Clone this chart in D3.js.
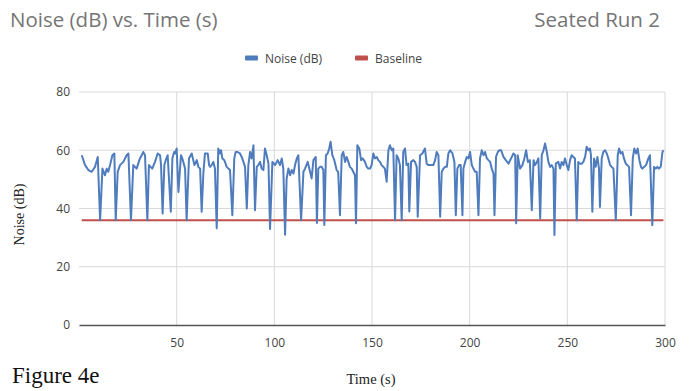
<!DOCTYPE html>
<html>
<head>
<meta charset="utf-8">
<script src="https://cdn.jsdelivr.net/npm/d3@7"></script>
<style>
  body { margin: 0; background: #fff; }
  svg { display: block; }
</style>
</head>
<body>
<div id="chart-container"></div>
<script>
// Series (seconds, dB)
const timeS = [
  1.4, 3.1, 4.8, 6.5, 8.2, 9.6, 10.8, 12.0, 13.3, 14.2, 15.0, 15.9, 17.1, 18.1, 18.8, 19.8, 21.0, 22.7, 24.4, 25.3,
  26.6, 27.8, 29.5, 31.2, 32.1, 32.9, 33.8, 35.0, 35.8, 37.5, 38.9, 40.3, 41.5, 42.0, 42.8, 43.7, 44.4, 45.4, 47.0, 47.8,
  48.7, 49.2, 50.0, 50.9, 52.2, 52.9, 54.3, 55.1, 56.3, 57.7, 59.1, 60.3,
  61.1, 62.0, 62.8, 63.7, 64.5, 65.9, 66.6, 67.1, 67.9, 68.8, 69.6, 70.5, 71.3, 72.2, 72.7, 73.4, 74.4, 75.6,
  76.5, 77.3, 78.5, 79.5, 80.2, 81.2, 82.4, 83.3, 84.2, 85.0, 85.9, 86.7, 87.6, 88.4, 89.3, 90.1, 91.0, 91.8, 92.7, 93.5,
  94.4, 95.2, 96.1, 97.0, 97.8, 99.0, 100.4, 101.7, 102.9, 103.8, 104.6, 105.5, 106.3, 107.2, 108.1, 108.9, 109.8, 110.6, 111.5, 112.3,
  113.7, 114.9, 115.7, 117.1, 118.3, 119.1, 120.0, 121.2,
  121.8, 122.5, 123.4, 124.2, 125.1, 125.6, 126.4, 127.3, 128.1, 128.8, 129.7, 130.7, 131.9, 132.7, 133.6, 134.5, 135.3, 136.2, 137.0, 137.9,
  138.7, 139.6, 140.4, 141.3, 141.8, 142.5, 143.5, 144.4, 145.2, 146.4, 147.3, 148.1, 149.0, 149.8, 150.7, 151.5, 152.4, 153.2, 154.1, 154.9,
  155.8, 156.6, 157.5, 158.4, 159.2, 160.1, 160.9, 161.8, 162.6, 163.5, 164.3, 165.2, 166.0, 166.9, 167.7, 168.6, 169.1, 170.0, 171.2, 172.0,
  172.9, 173.4, 174.6, 175.8, 177.1, 178.0, 178.8, 180.2, 181.4, 182.3, 183.1,
  184.0, 184.9, 185.7, 186.6, 187.4, 188.3, 189.1, 190.0, 191.2, 192.2, 192.9, 193.7, 194.6, 195.4, 196.3, 196.8, 197.7, 198.5, 199.4, 200.2,
  201.1, 201.9, 202.8, 203.6, 204.5, 205.3, 206.2, 207.1, 207.9, 208.8, 209.6, 210.5, 211.3, 212.2, 212.7, 213.5, 214.4, 215.2, 216.1, 217.3,
  218.5, 219.9, 221.2, 222.4, 223.3, 223.8, 224.6, 225.8, 227.0, 228.0, 228.9, 229.8, 230.8, 231.8, 232.7, 233.5, 234.4, 235.2, 236.1, 236.9,
  237.8, 238.6, 239.5, 240.3, 241.2, 242.0, 242.9, 243.4, 244.1,
  245.4, 246.3, 247.1, 248.0, 248.8, 249.7, 250.5, 251.4, 252.2, 253.1, 253.9, 254.8, 255.6, 256.5, 257.4, 258.2, 259.1, 259.9, 260.8, 261.6,
  262.1, 262.8, 263.7, 264.5, 265.4, 266.2, 266.7, 267.6, 268.4, 269.3, 270.2, 271.0, 271.9, 272.7, 273.6, 274.8, 275.8, 276.5, 277.3, 278.2,
  279.0, 279.9, 280.7, 281.6, 282.6, 283.5, 284.3, 285.2, 286.0, 286.9, 287.7, 288.4, 289.4, 290.3, 291.5, 292.3, 293.5, 294.4, 295.3, 296.1,
  296.9, 297.8, 298.7, 299.2
];
const noiseDb = [
  58.3, 54.9, 53.2, 52.6, 54.3, 57.7, 36.0, 53.7, 51.4, 53.7, 52.6, 54.9, 58.3, 58.9, 36.0, 52.6, 54.9, 56.0, 58.3, 58.9,
  36.0, 54.9, 53.7, 57.2, 58.3, 59.4, 58.3, 36.0, 54.9, 53.7, 56.0, 58.9, 58.3, 54.9, 38.3, 54.9, 56.6, 58.3, 38.9, 57.2,
  59.4, 58.9, 60.6, 45.7, 58.3, 57.2, 53.7, 36.0, 57.2, 58.9, 54.9, 56.6,
  54.3, 53.7, 38.9, 52.6, 58.9, 58.9, 54.9, 54.3, 54.9, 56.0, 53.7, 33.2, 60.6, 58.9, 60.0, 57.2, 56.6, 54.3,
  53.7, 53.2, 37.7, 57.2, 59.4, 59.4, 58.9, 57.7, 56.0, 54.3, 40.0, 54.9, 59.4, 57.2, 61.7, 39.4, 54.3, 54.9, 56.0, 53.7,
  53.2, 60.6, 58.3, 55.4, 33.0, 56.0, 54.9, 56.6, 54.9, 57.2, 53.7, 31.0, 50.3, 53.7, 51.4, 53.2, 52.0, 54.9, 57.2, 58.3,
  36.0, 52.6, 53.7, 56.0, 52.6, 50.3, 56.6, 57.7,
  35.0, 53.7, 54.3, 54.3, 53.2, 34.3, 58.3, 58.9, 60.6, 62.9, 58.3, 56.6, 53.2, 52.6, 37.7, 58.3, 59.4, 56.0, 57.7, 56.0,
  54.3, 53.7, 52.6, 51.4, 34.9, 61.7, 60.6, 56.6, 57.2, 56.0, 54.3, 53.7, 53.7, 54.9, 58.9, 57.2, 57.7, 56.6, 56.0, 54.9,
  54.3, 53.7, 49.2, 60.0, 61.7, 60.0, 60.6, 36.0, 58.3, 57.2, 54.9, 36.0, 59.4, 60.6, 54.9, 55.4, 39.0, 56.0, 56.6, 56.0,
  54.3, 37.2, 58.3, 58.9, 60.6, 55.4, 54.9, 54.9, 54.9, 56.6, 59.4,
  58.3, 37.2, 52.6, 53.7, 54.3, 54.3, 58.9, 60.0, 58.9, 56.0, 37.7, 53.7, 54.9, 54.9, 37.7, 53.7, 56.0, 57.7, 57.2, 59.4,
  54.9, 53.7, 52.6, 52.6, 37.7, 57.2, 60.0, 58.3, 59.4, 57.2, 56.6, 56.0, 53.7, 52.0, 37.7, 57.7, 59.4, 60.0, 60.0, 57.7,
  56.6, 55.4, 57.2, 58.9, 58.3, 34.9, 58.3, 53.7, 54.9, 57.2, 60.0, 56.0, 56.6, 39.4, 56.6, 54.9, 56.0, 57.2, 36.6, 58.3,
  60.0, 62.3, 59.4, 56.0, 54.3, 54.9, 53.7, 30.9, 55.4,
  56.0, 53.7, 56.0, 54.9, 57.2, 54.9, 53.2, 56.6, 58.3, 57.7, 57.2, 36.0, 56.0, 55.4, 55.4, 56.0, 57.7, 61.2, 60.0, 60.6,
  58.3, 38.9, 57.2, 54.3, 57.7, 53.7, 40.5, 57.2, 59.4, 60.0, 58.9, 57.2, 54.9, 54.3, 53.7, 36.0, 58.3, 60.6, 58.9, 59.4,
  57.2, 55.4, 54.9, 54.3, 37.7, 57.2, 60.6, 58.9, 60.6, 56.6, 54.3, 53.7, 54.3, 54.9, 57.2, 58.3, 34.3, 54.3, 53.7, 54.3,
  53.7, 54.3, 59.4, 60.0
];
const baselineDb = 36;
const baselineTime = [1.4, 299.2];
const xTicks = [50, 100, 150, 200, 250, 300];
const yTicks = [0, 20, 40, 60, 80];
const seriesNames = ["Noise (dB)", "Baseline"];
const seriesColors = ["#4f7cbd", "#c0504d"];

const width = 691, height = 391;
const margin = { top: 92, right: 26, bottom: 66, left: 79 };

const svg = d3.select("#chart-container").append("svg")
  .attr("width", width)
  .attr("height", height)
  .style("font-family", "'Open Sans', sans-serif");

const x = d3.scaleLinear().domain([0, 300]).range([margin.left, width - margin.right]);
const y = d3.scaleLinear().domain([0, 80]).range([height - margin.bottom, margin.top]);

// gridlines
svg.append("g").selectAll("line.hgrid")
  .data(yTicks.filter(d => d > 0))
  .join("line")
  .attr("x1", x(0)).attr("x2", x(300))
  .attr("y1", d => y(d)).attr("y2", d => y(d))
  .attr("stroke", "#d9d9d9").attr("stroke-width", 1);

svg.append("g").selectAll("line.vgrid")
  .data(xTicks)
  .join("line")
  .attr("x1", d => x(d)).attr("x2", d => x(d))
  .attr("y1", y(80)).attr("y2", y(0))
  .attr("stroke", "#d9d9d9").attr("stroke-width", 1);

// axes
const yAxis = svg.append("g")
  .attr("transform", `translate(${x(0)},0)`)
  .call(d3.axisLeft(y).tickValues(yTicks).tickSize(0).tickPadding(9));
yAxis.select(".domain").remove();
yAxis.selectAll("text").attr("fill", "#444").style("font-size", "12px").style("font-family", "'Open Sans', sans-serif");

const xAxis = svg.append("g")
  .attr("transform", `translate(0,${y(0)})`)
  .call(d3.axisBottom(x).tickValues(xTicks).tickSize(0).tickPadding(13));
xAxis.select(".domain").attr("stroke", "#555").attr("stroke-width", 1.5);
xAxis.selectAll("text").attr("fill", "#444").style("font-size", "12px").style("font-family", "'Open Sans', sans-serif");

// lines
const line = d3.line().x(d => x(d[0])).y(d => y(d[1]));

svg.append("path")
  .datum(baselineTime.map(t => [t, baselineDb]))
  .attr("d", line)
  .attr("fill", "none")
  .attr("stroke", seriesColors[1])
  .attr("stroke-width", 2);

svg.append("path")
  .datum(timeS.map((t, i) => [t, noiseDb[i]]))
  .attr("d", line)
  .attr("fill", "none")
  .attr("stroke", seriesColors[0])
  .attr("stroke-width", 2)
  .attr("stroke-linejoin", "round");

// titles
svg.append("text")
  .attr("x", 10).attr("y", 27)
  .attr("fill", "#757575")
  .style("font-size", "20.5px")
  .text("Noise (dB) vs. Time (s)");

svg.append("text")
  .attr("x", 660).attr("y", 27)
  .attr("text-anchor", "end")
  .attr("fill", "#757575")
  .style("font-size", "20.5px")
  .text("Seated Run 2");

// legend
const legend = svg.append("g").attr("transform", "translate(245,58)");
const legendX = [0, 110];
seriesNames.forEach((name, i) => {
  const g = legend.append("g").attr("transform", `translate(${legendX[i]},0)`);
  g.append("rect").attr("x", 0).attr("y", -2.5).attr("width", 13).attr("height", 5).attr("rx", 1)
    .attr("fill", seriesColors[i]);
  g.append("text").attr("x", 20).attr("y", 4.5)
    .attr("fill", "#444").style("font-size", "12px")
    .text(name);
});

// axis titles (serif, as in the figure)
svg.append("text")
  .attr("transform", `translate(24,${(y(0) + y(80)) / 2 + 6}) rotate(-90)`)
  .attr("text-anchor", "middle")
  .style("font-family", "'Liberation Serif', serif")
  .style("font-size", "14px")
  .attr("fill", "#222")
  .text("Noise (dB)");

svg.append("text")
  .attr("x", 371).attr("y", 384)
  .attr("text-anchor", "middle")
  .style("font-family", "'Liberation Serif', serif")
  .style("font-size", "14.5px")
  .attr("fill", "#222")
  .text("Time (s)");

svg.append("text")
  .attr("x", 12).attr("y", 383)
  .style("font-family", "'Liberation Serif', serif")
  .style("font-size", "23px")
  .attr("fill", "#111")
  .text("Figure 4e");
</script>
</body>
</html>
